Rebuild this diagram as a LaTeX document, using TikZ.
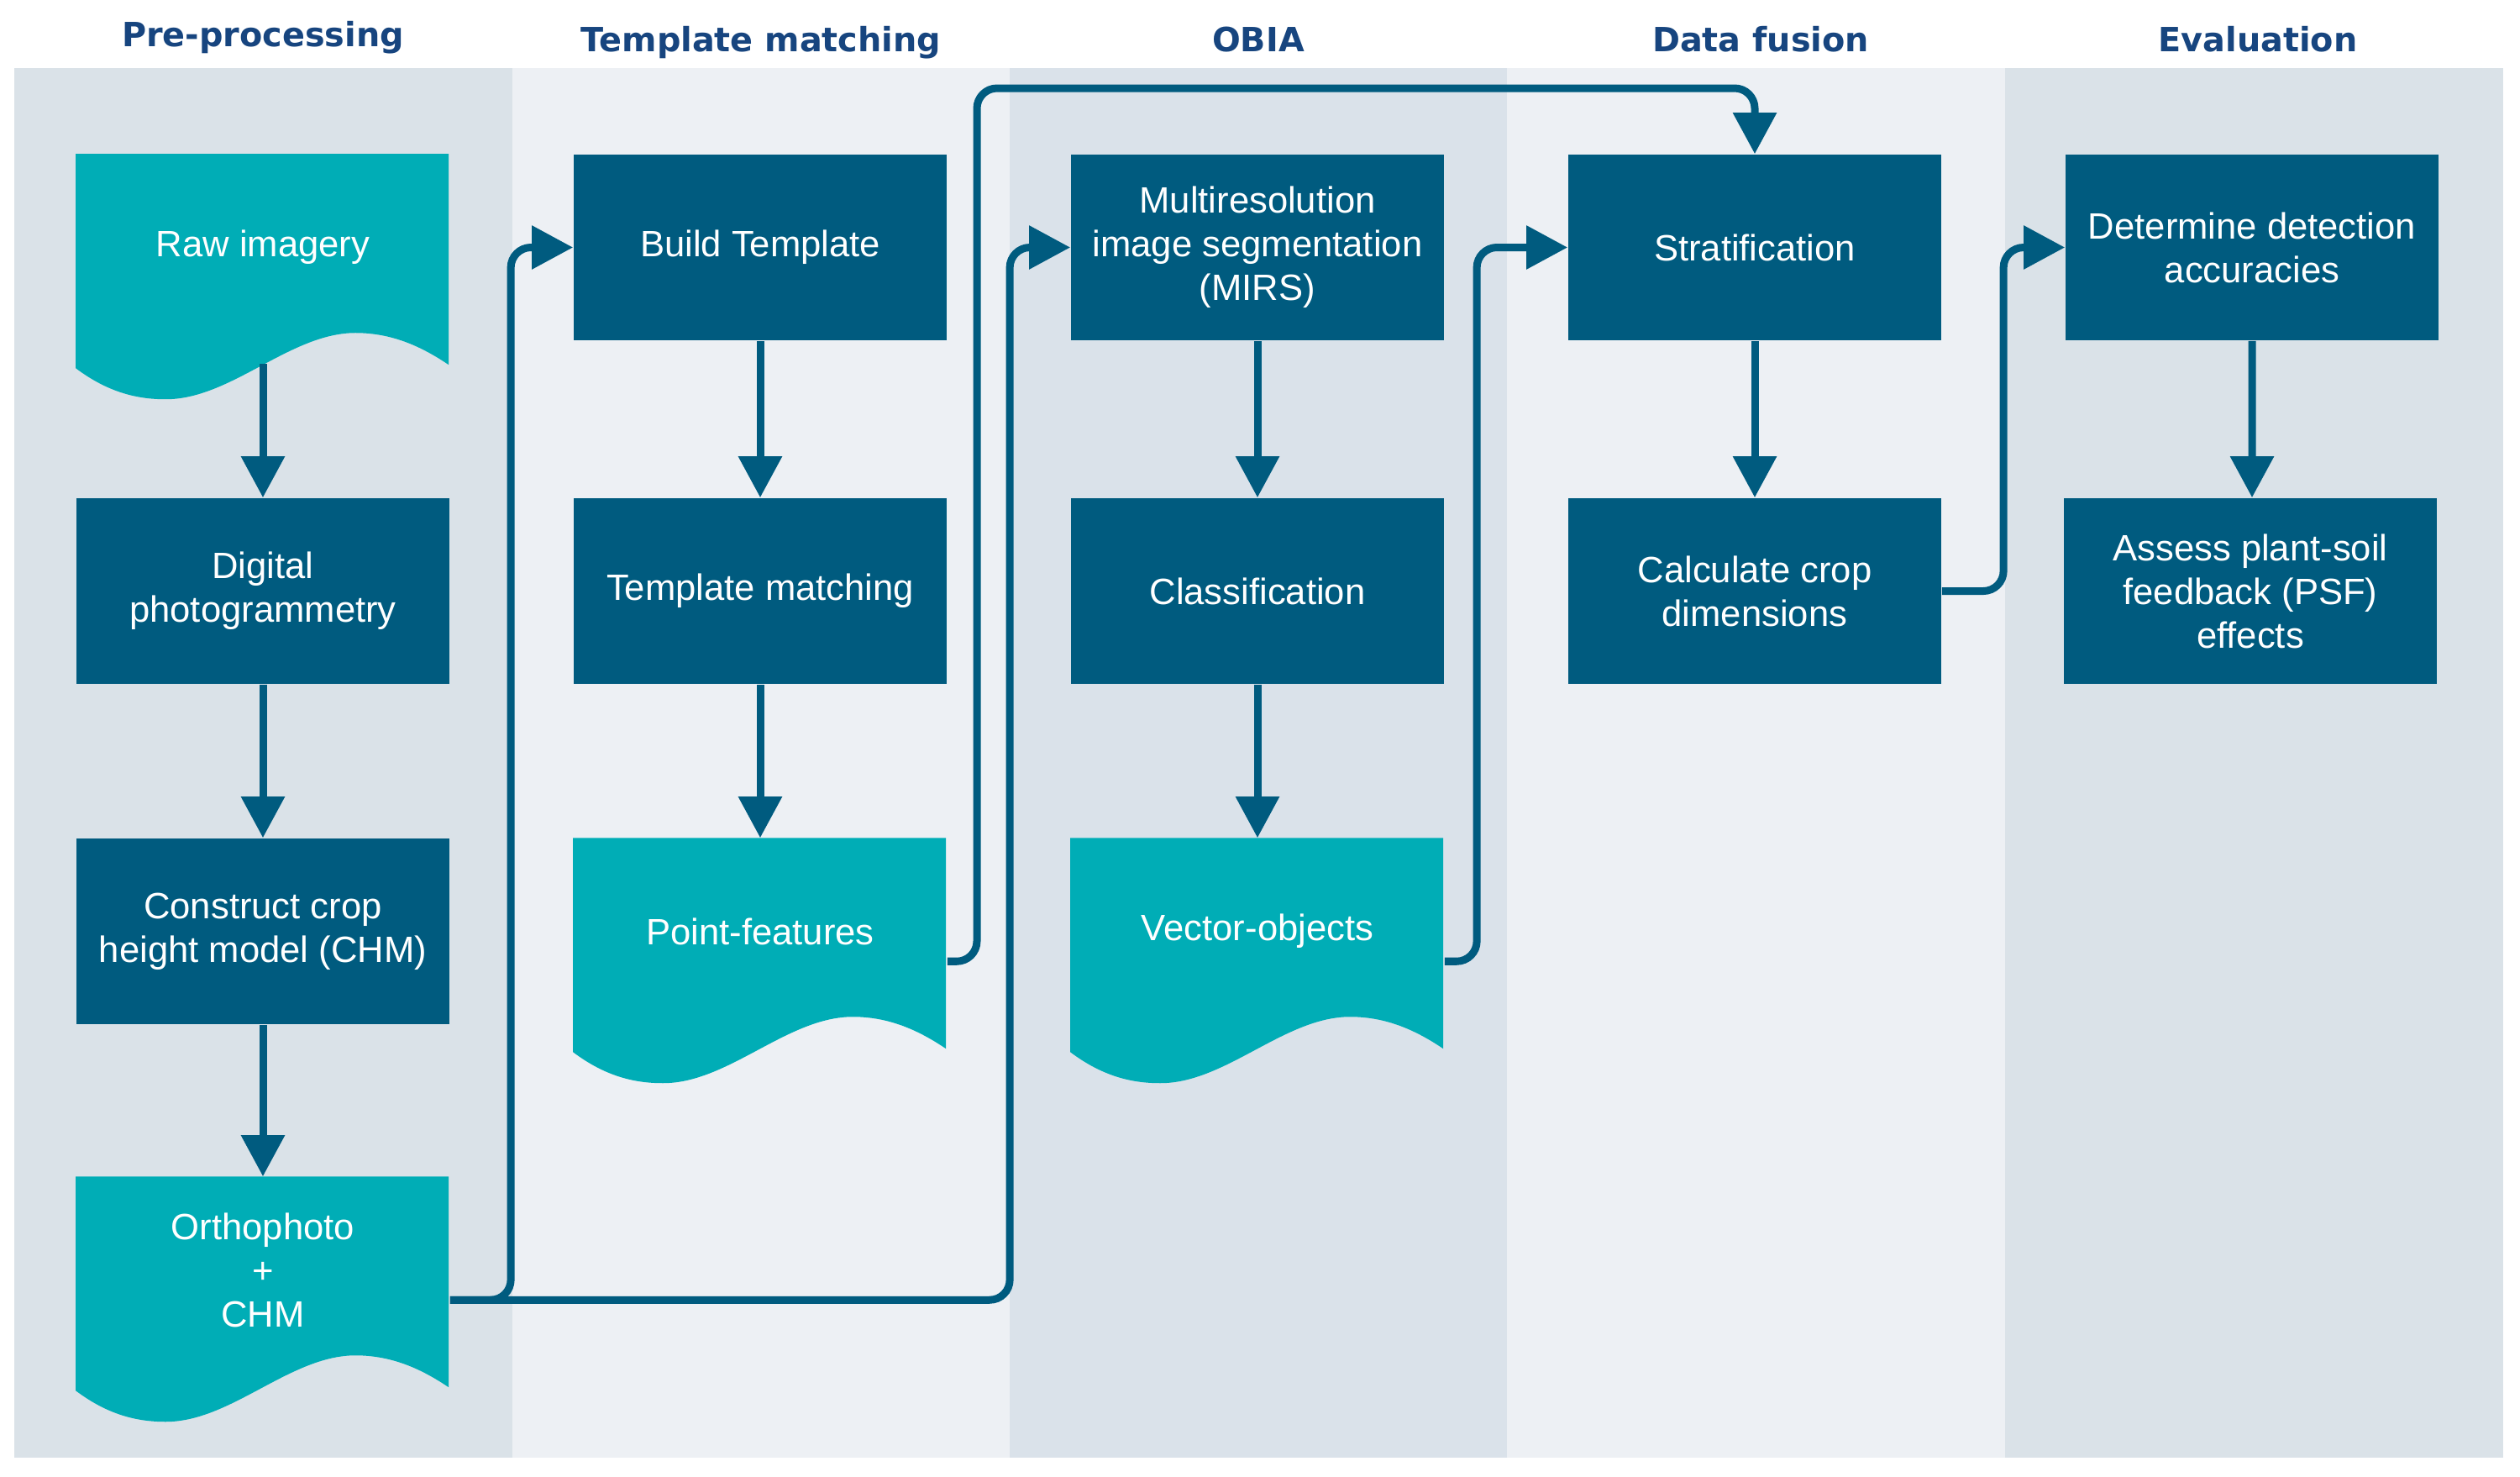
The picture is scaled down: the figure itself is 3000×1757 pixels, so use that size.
\documentclass[tikz,border=0pt]{standalone}
\usepackage{fontspec}
\setmainfont{Liberation Sans}
\newfontfamily\hdrfont{DejaVu Sans}
\usetikzlibrary{arrows.meta,calc}
\definecolor{boxblue}{HTML}{005B7F}
\definecolor{docteal}{HTML}{00ADB6}
\definecolor{hdrblue}{HTML}{17457F}
\definecolor{lanedark}{HTML}{DAE2E8}
\definecolor{lanedarkb}{HTML}{DAE2EA}
\definecolor{lanelight}{HTML}{EDF0F4}
\pgfdeclarelayer{lanes}
\pgfdeclarelayer{docs}
\pgfsetlayers{lanes,docs,main}
\newcommand\docshape[1]{%
  \begin{pgfonlayer}{docs}
    \fill[docteal, shift={(#1.north west)}] (0,0) -- (444,0) -- (444,251)
      .. controls (410,228) and (375,213) .. (333,213)
      .. controls (255,213) and (185,292) .. (107,292)
      .. controls (70,292) and (36,282) .. (0,255) -- cycle;
  \end{pgfonlayer}}
\begin{document}
\begin{tikzpicture}[x=0.01cm,y=-0.01cm,
  procbox/.style={rectangle, fill=boxblue, text=white, minimum width=4.44cm,
    minimum height=2.21cm, inner sep=0pt, align=center,
    font=\fontsize{12.4}{14.8}\selectfont},
  docbox/.style={procbox, fill=none},
  hdr/.style={font=\hdrfont\bfseries\fontsize{11.3}{13}\selectfont, text=hdrblue, anchor=base},
  flow/.style={draw=boxblue, line width=0.09cm, rounded corners=0.24cm,
    -{Triangle[length=0.49cm,width=0.5cm]}},
]
\useasboundingbox (0,0) rectangle (3000,1757);
\begin{pgfonlayer}{lanes}
  \fill[white] (0,0) rectangle (3000,1757);
  \fill[lanedark]  (17,81)   rectangle (610,1735);
  \fill[lanelight] (610,81)  rectangle (1202,1735);
  \fill[lanedarkb] (1202,81) rectangle (1794,1735);
  \fill[lanelight] (1794,81) rectangle (2387,1735);
  \fill[lanedark]  (2387,81) rectangle (2980,1735);
\end{pgfonlayer}

% headers
\node[hdr] (h1) at (313,55) {Pre-processing};
\node[hdr] (h2) at (906,61) {Template matching};
\node[hdr] (h3) at (1498,61) {OBIA};
\node[hdr] (h4) at (2096,61) {Data fusion};
\node[hdr] (h5) at (2688,61) {Evaluation};

% nodes
\node[docbox]  (raw)   at (313,294.5)  {Raw imagery};
\node[procbox] (dig)   at (313,703.5)  {Digital\\photogrammetry};
\node[procbox] (chm)   at (313,1108.5) {Construct crop\\height model (CHM)};
\node[docbox]  (ortho) at (313,1511.5) {Orthophoto\\+\\CHM};

\node[procbox] (build) at (905,294.5)  {Build Template};
\node[procbox] (tm)    at (905,703.5)  {Template matching};
\node[docbox]  (pf)    at (905,1108.5) {Point-features};

\node[procbox] (mirs)  at (1497,294.5)  {Multiresolution\\image segmentation\\(MIRS)};
\node[procbox] (cls)   at (1497,703.5)  {Classification};
\node[docbox]  (vo)    at (1497,1108.5) {Vector-objects};

\node[procbox] (strat) at (2089,294.5) {Stratification};
\node[procbox] (calc)  at (2089,703.5) {Calculate crop\\dimensions};

\node[procbox] (det)   at (2681,294.5) {Determine detection\\accuracies};
\node[procbox] (psf)   at (2679,703.5) {Assess plant-soil\\feedback (PSF)\\effects};

\docshape{raw}
\docshape{ortho}
\docshape{pf}
\docshape{vo}

% connectors
\coordinate (rawb) at ($(raw.north)+(0,250)$);
\coordinate (orthoout) at ($(ortho.north east)+(0,147)$);
\coordinate (pfout) at ($(pf.north east)+(0,147)$);
\coordinate (voout) at ($(vo.north east)+(0,147)$);
\coordinate (topway) at (1163,105);

\draw[flow] (rawb) -- (dig.north);
\draw[flow] (dig.south) -- (chm.north);
\draw[flow] (chm.south) -- (ortho.north);
\draw[flow] (build.south) -- (tm.north);
\draw[flow] (tm.south) -- (pf.north);
\draw[flow] (mirs.south) -- (cls.north);
\draw[flow] (cls.south) -- (vo.north);
\draw[flow] (strat.south) -- (calc.north);
\draw[flow] (det.south) -- ([xshift=0.02cm]psf.north);

\draw[flow] (orthoout) -| ([xshift=-0.74cm]build.west) -- (build.west);
\draw[flow] (orthoout) -| ([xshift=-0.72cm]mirs.west) -- (mirs.west);
\draw[flow] (pfout) -| (topway) -| (strat.north);
\draw[flow] (voout) -| ([xshift=-1.08cm]strat.west) -- (strat.west);
\draw[flow] (calc.east) -| ([xshift=-0.73cm]det.west) -- (det.west);
\end{tikzpicture}
\end{document}
